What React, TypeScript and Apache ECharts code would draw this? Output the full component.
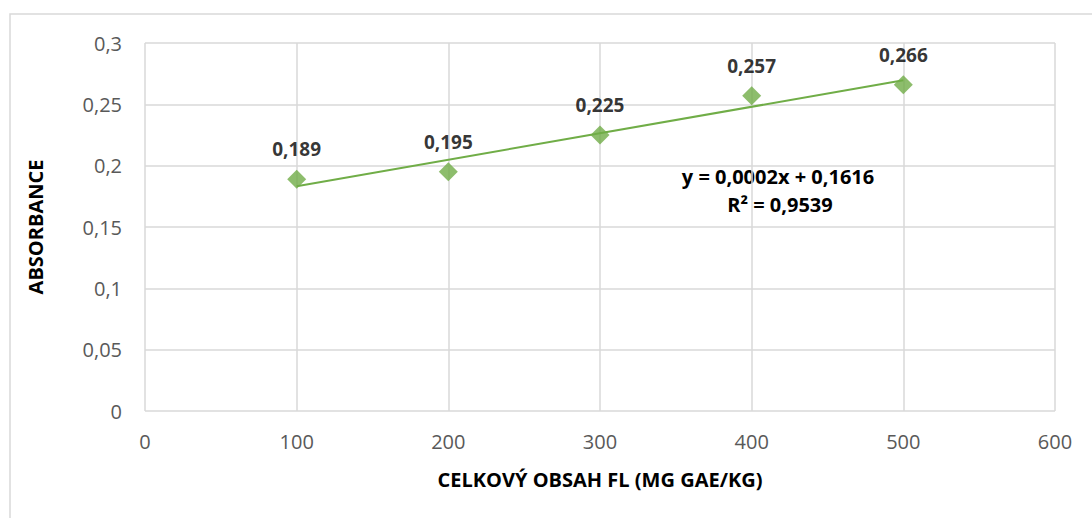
import React, { useEffect, useRef } from "react";
import * as echarts from "echarts";

const xValues = [100, 200, 300, 400, 500];
const yValues = [0.189, 0.195, 0.225, 0.257, 0.266];
const xTitle = "CELKOVÝ OBSAH FL (MG GAE/KG)";
const yTitle = "ABSORBANCE";
const equationText = "y = 0,0002x + 0,1616";
const r2Text = "R² = 0,9539";

const GREEN = "#70ad47";
const FONT = "'Open Sans', 'Noto Sans', sans-serif";

function regression(xs: number[], ys: number[]) {
  const n = xs.length;
  const mx = xs.reduce((a, b) => a + b, 0) / n;
  const my = ys.reduce((a, b) => a + b, 0) / n;
  let sxy = 0;
  let sxx = 0;
  for (let i = 0; i < n; i++) {
    sxy += (xs[i] - mx) * (ys[i] - my);
    sxx += (xs[i] - mx) * (xs[i] - mx);
  }
  const slope = sxy / sxx;
  return { slope, intercept: my - slope * mx };
}

const fmt = (v: number) => String(v).replace(".", ",");

export default function App() {
  const ref = useRef<HTMLDivElement>(null);
  useEffect(() => {
    if (!ref.current) return;
    const chart = echarts.init(ref.current, undefined, { renderer: "svg" });
    const { slope, intercept } = regression(xValues, yValues);
    const x0 = xValues[0];
    const x1 = xValues[xValues.length - 1];
    const trend = [
      [x0, slope * x0 + intercept],
      [x1, slope * x1 + intercept],
    ];
    chart.setOption({
      animation: false,
      backgroundColor: "#ffffff",
      grid: { left: 145, top: 43, right: 37, bottom: 107 },
      xAxis: {
        type: "value",
        min: 0,
        max: 600,
        interval: 100,
        axisLine: { show: false },
        axisTick: { show: false },
        splitLine: { show: true, lineStyle: { color: "#d9d9d9", width: 1.5 } },
        axisLabel: { color: "#595959", fontSize: 20, fontFamily: FONT, margin: 20 },
        name: xTitle,
        nameLocation: "middle",
        nameGap: 58,
        nameTextStyle: { color: "#000", fontSize: 20, fontWeight: "bold", fontFamily: FONT },
      },
      yAxis: {
        type: "value",
        min: 0,
        max: 0.3,
        interval: 0.05,
        axisLine: { show: false },
        axisTick: { show: false },
        splitLine: { show: true, lineStyle: { color: "#d9d9d9", width: 1.5 } },
        axisLabel: {
          color: "#595959",
          fontSize: 20,
          fontFamily: FONT,
          margin: 23,
          formatter: (v: number) => fmt(Math.round(v * 100) / 100),
        },
        name: yTitle,
        nameLocation: "middle",
        nameGap: 100,
        nameRotate: 90,
        nameTextStyle: { color: "#000", fontSize: 20, fontWeight: "bold", fontFamily: FONT },
      },
      series: [
        {
          type: "line",
          data: trend,
          showSymbol: false,
          symbol: "none",
          lineStyle: { color: GREEN, width: 2 },
          silent: true,
          z: 2,
        },
        {
          type: "scatter",
          data: xValues.map((x, i) => [x, yValues[i]]),
          symbol: "diamond",
          symbolSize: 19,
          itemStyle: { color: GREEN },
          label: {
            show: true,
            position: "top",
            distance: 11,
            color: "#000",
            fontSize: 19,
            fontWeight: "bold",
            fontFamily: FONT,
            formatter: (p: any) => fmt(p.value[1]),
          },
          z: 3,
        },
      ],
      graphic: [
        {
          type: "rect",
          shape: { x: 10, y: 14, width: 1200, height: 600 },
          style: { fill: "none", stroke: "#d9d9d9", lineWidth: 1.5 },
          silent: true,
          z: -1,
        },
        {
          type: "text",
          x: 778,
          y: 176,
          style: {
            text: equationText,
            fill: "#000",
            font: `bold 20px ${FONT}`,
            textAlign: "center",
            textVerticalAlign: "middle",
          },
        },
        {
          type: "text",
          x: 780,
          y: 204,
          style: {
            text: r2Text,
            fill: "#000",
            font: `bold 20px ${FONT}`,
            textAlign: "center",
            textVerticalAlign: "middle",
          },
        },
      ],
    });
    return () => chart.dispose();
  }, []);
  return (
    <div
      ref={ref}
      style={{ position: "absolute", left: 0, top: 0, width: 1092, height: 518 }}
    />
  );
}
